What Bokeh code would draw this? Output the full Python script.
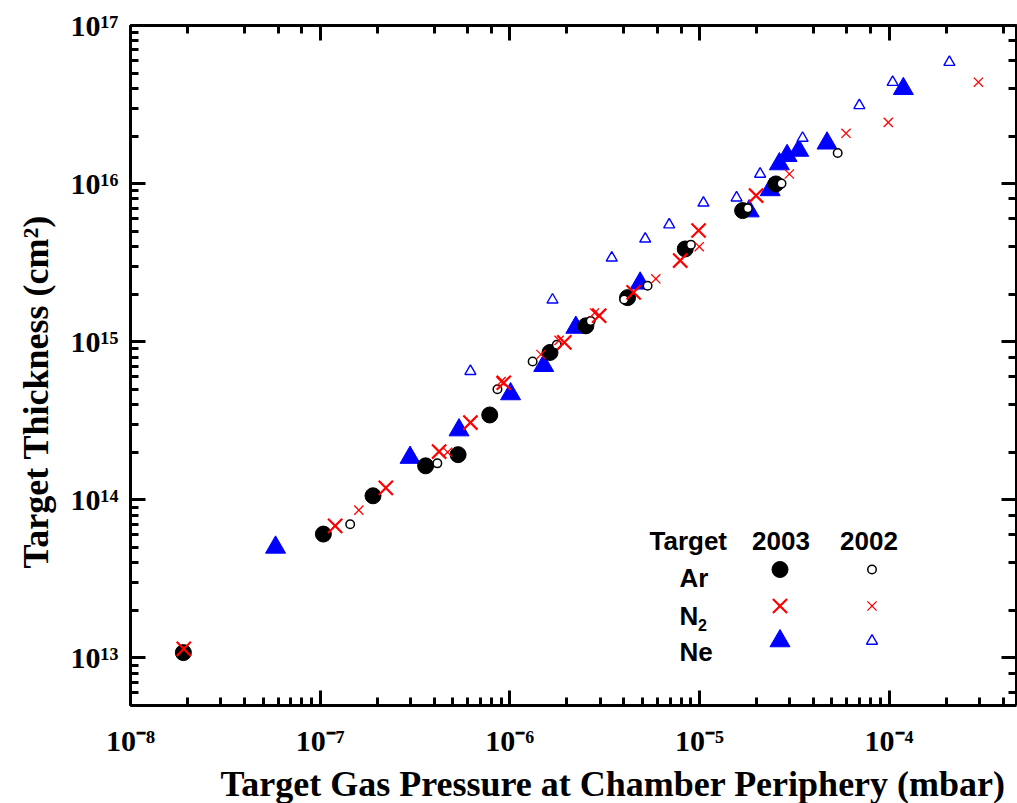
import math
from bokeh.plotting import figure
from bokeh.models import Range1d, LinearScale, LogAxis, LogTicker, CustomJSTickFormatter, Label, Title
from bokeh.embed import file_html
from bokeh.resources import INLINE

# ---- data (pressure in mbar, thickness in cm^-2) ----
ar2003_p = [1.90e-8, 1.04e-7, 1.9e-7, 3.6e-7, 5.34e-7, 7.84e-7, 1.63e-6, 2.52e-6, 4.18e-6, 8.42e-6, 1.69e-5, 2.53e-5]
ar2003_t = [1.08e13, 6.07e13, 1.06e14, 1.64e14, 1.93e14, 3.44e14, 8.55e14, 1.26e15, 1.9e15, 3.86e15, 6.75e15, 9.95e15]

ar2002_p = [1.44e-7, 4.15e-7, 8.61e-7, 1.32e-6, 1.77e-6, 2.67e-6, 4.01e-6, 5.33e-6, 9.02e-6, 1.8e-5, 2.71e-5, 5.36e-5]
ar2002_t = [7.0e13, 1.70e14, 5.0e14, 7.5e14, 9.57e14, 1.35e15, 1.85e15, 2.26e15, 4.11e15, 6.98e15, 1.0e16, 1.56e16]

n2_2003_p = [1.91e-8, 1.2e-7, 2.22e-7, 4.24e-7, 6.2e-7, 9.3e-7, 1.94e-6, 2.96e-6, 4.5e-6, 7.92e-6, 9.9e-6, 1.99e-5]
n2_2003_t = [1.14e13, 6.84e13, 1.19e14, 2.02e14, 3.08e14, 5.5e14, 9.9e14, 1.46e15, 2.05e15, 3.26e15, 5.05e15, 8.4e15]

n2_2002_p = [1.6e-7, 4.7e-7, 9.0e-7, 1.46e-6, 1.82e-6, 2.8e-6, 5.89e-6, 9.98e-6, 2.98e-5, 5.93e-5, 9.91e-5, 2.96e-4]
n2_2002_t = [8.6e13, 2.0e14, 5.6e14, 8.3e14, 1.02e15, 1.52e15, 2.5e15, 3.99e15, 1.15e16, 2.08e16, 2.44e16, 4.38e16]

ne2003_p = [5.82e-8, 2.98e-7, 5.4e-7, 1.01e-6, 1.51e-6, 2.23e-6, 4.87e-6, 1.83e-5, 2.36e-5, 2.64e-5, 2.9e-5, 3.34e-5, 4.71e-5, 1.19e-4]
ne2003_t = [5.0e13, 1.85e14, 2.76e14, 4.67e14, 7.05e14, 1.23e15, 2.34e15, 6.7e15, 9.12e15, 1.33e16, 1.5e16, 1.62e16, 1.8e16, 3.98e16]

ne2002_p = [6.2e-7, 1.68e-6, 3.45e-6, 5.18e-6, 6.93e-6, 1.05e-5, 1.57e-5, 2.09e-5, 3.5e-5, 6.97e-5, 1.045e-4, 2.08e-4]
ne2002_t = [6.5e14, 1.84e15, 3.39e15, 4.47e15, 5.5e15, 7.55e15, 8.13e15, 1.15e16, 1.94e16, 3.12e16, 4.38e16, 5.86e16]

x_label = "Target Gas Pressure at Chamber Periphery (mbar)"
y_label = "Target Thickness (cm\u00b2)"
legend_header = ["Target", "2003", "2002"]
legend_rows = ["Ar", "N", "Ne"]

FW, FH = 886, 680

p = figure(x_axis_type="log", y_axis_type="log",
           x_range=Range1d(1e-8, 4.7e-4), y_range=Range1d(5e12, 1e17),
           frame_width=FW, frame_height=FH,
           min_border_left=130, min_border_right=1, min_border_top=25, min_border_bottom=98,
           output_backend="svg", toolbar_location=None,
           background_fill_color="white", border_fill_color="white")
p.outline_line_color = None
p.grid.visible = False

p.extra_x_ranges = {"px": Range1d(0, FW)}
p.extra_y_ranges = {"px": Range1d(0, FH)}
p.extra_x_scales = {"px": LinearScale()}
p.extra_y_scales = {"px": LinearScale()}

sup_code = """
const sup = {"-":"\u207b","0":"\u2070","1":"\u00b9","2":"\u00b2","3":"\u00b3","4":"\u2074","5":"\u2075","6":"\u2076","7":"\u2077","8":"\u2078","9":"\u2079"};
const e = Math.round(Math.log10(tick));
return "10" + String(e).split("").map(c => sup[c]).join("");
"""

def style_axis(ax, labels=True, standoff=12):
    ax.axis_line_width = 3
    ax.axis_line_color = "black"
    ax.major_tick_line_width = 3
    ax.minor_tick_line_width = 3
    ax.major_tick_in = 15
    ax.major_tick_out = 0
    ax.minor_tick_in = 8
    ax.minor_tick_out = 0
    if labels:
        ax.formatter = CustomJSTickFormatter(code=sup_code)
        ax.major_label_text_font = "Liberation Serif"
        ax.major_label_text_font_style = "bold"
        ax.major_label_text_font_size = "30px"
        ax.major_label_text_color = "black"
        ax.major_label_standoff = standoff
    else:
        ax.formatter = CustomJSTickFormatter(code="return ''")
        ax.major_label_standoff = 0
        ax.major_label_text_font_size = "1px"

for ax in p.xaxis:
    style_axis(ax, standoff=18)
for ax in p.yaxis:
    style_axis(ax, standoff=12)

top = LogAxis(ticker=LogTicker())
style_axis(top, labels=False)
p.add_layout(top, "above")
right = LogAxis(ticker=LogTicker())
style_axis(right, labels=False)
p.add_layout(right, "right")

# axis titles as side titles (left-aligned with an offset, as in the reference)
p.add_layout(Title(text=x_label, align="left", offset=90, standoff=5,
                   text_font="Liberation Serif", text_font_style="bold", text_font_size="36px",
                   text_color="black"), "below")
p.add_layout(Title(text=y_label, align="left", offset=137, standoff=23,
                   text_font="Liberation Serif", text_font_style="bold", text_font_size="36px",
                   text_color="black"), "left")

# marker styles
ar03 = dict(marker="circle", size=16, fill_color="black", line_color="black", line_width=1)
ar02 = dict(marker="circle", size=8.5, fill_color="white", line_color="black", line_width=1.5)
n03 = dict(marker="x", size=20, line_color="#ff0000", line_width=2.2)
n02 = dict(marker="x", size=13, line_color="#ff0000", line_width=1.3)
ne03 = dict(marker="triangle", size=20, fill_color="#0000ff", line_color="#0000ff", line_width=1)
ne02 = dict(marker="triangle", size=11, fill_color="white", line_color="#0000ff", line_width=1.4)

p.scatter(ne2003_p, ne2003_t, **ne03)
p.scatter(ar2003_p, ar2003_t, **ar03)
p.scatter(ar2002_p, ar2002_t, **ar02)
p.scatter(n2_2003_p, n2_2003_t, **n03)
p.scatter(n2_2002_p, n2_2002_t, **n02)
p.scatter(ne2002_p, ne2002_t, **ne02)

# legend table (frame pixel coordinates)
def ltxt(x, y, t, align="left", size="26px"):
    p.add_layout(Label(x=x, y=y, x_range_name="px", y_range_name="px", text=t,
                       text_align=align, text_baseline="alphabetic",
                       text_font="Liberation Sans", text_font_style="bold", text_font_size=size,
                       text_color="black"))

ltxt(519, 164.5, legend_header[0])
ltxt(650.5, 164.5, legend_header[1], align="center")
ltxt(738.5, 164.5, legend_header[2], align="center")
ltxt(549, 128, legend_rows[0])
ltxt(549, 90, legend_rows[1])
ltxt(567.5, 81, "2", size="16px")
ltxt(549, 53.5, legend_rows[2])

col03, col02 = 649.5, 741.5
row_y = [136, 99.5, 64.5]
for (s03, s02), yy in zip([(ar03, ar02), (n03, n02), (ne03, ne02)], row_y):
    p.scatter([col03], [yy], x_range_name="px", y_range_name="px", **s03)
    p.scatter([col02], [yy], x_range_name="px", y_range_name="px", **s02)

open("out.html", "w").write(file_html(p, INLINE))
